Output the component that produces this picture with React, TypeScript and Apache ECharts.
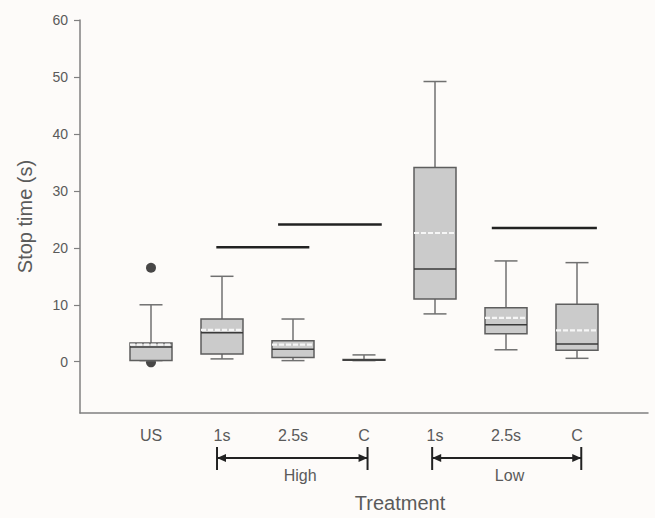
import React, { useEffect, useRef } from "react";
import * as echarts from "echarts";

const categories = ["US", "1s", "2.5s", "C", "1s", "2.5s", "C"];
const positions = [1, 2, 3, 4, 5, 6, 7];
const whiskerMin = [0.2, 0.5, 0.2, 0.2, 8.4, 2.1, 0.6];
const q1 = [0.2, 1.35, 0.75, 0.25, 11.0, 4.9, 2.0];
const median = [2.6, 5.1, 2.2, 0.3, 16.3, 6.5, 3.1];
const q3 = [3.3, 7.5, 3.7, 0.4, 34.1, 9.5, 10.1];
const whiskerMax = [10.0, 15.0, 7.5, 1.2, 49.2, 17.7, 17.4];
const means: (number | null)[] = [3.0, 5.6, 3.0, null, 22.6, 7.7, 5.5];

const outliers = [
  [1, 16.5],
  [1, -0.1],
];

// [xStart, xEnd, y]
const sigLines = [
  [1.92, 3.23, 20.1],
  [2.79, 4.25, 24.1],
  [5.8, 7.28, 23.5],
];

const groupLabels = ["High", "Low"];
const groupStart = [1.93, 4.96];
const groupEnd = [4.05, 7.06];
const groupLabelX = [3.1, 6.05];

const yTicks = [0, 10, 20, 30, 40, 50, 60];
const Y_MIN = -9;
const Y_MAX = 60;

export default function App() {
  const ref = useRef<HTMLDivElement>(null);

  useEffect(() => {
    if (!ref.current) return;
    const chart = echarts.init(ref.current, undefined, { renderer: "svg" });

    const boxData = positions.map((x, i) => [
      x,
      whiskerMin[i],
      q1[i],
      median[i],
      q3[i],
      whiskerMax[i],
      means[i] == null ? "-" : means[i],
    ]);

    const groupData = groupLabels.map((_, i) => [groupStart[i], groupEnd[i], groupLabelX[i], i]);

    const textColor = "#5a5a5a";
    const font = "Liberation Sans, Arial, sans-serif";

    const option: any = {
      animation: false,
      backgroundColor: "#fdfbf9",
      grid: {
        left: 80,
        right: 7,
        top: 20,
        bottom: 105,
        containLabel: false,
        outerBoundsMode: "none",
      },
      xAxis: {
        type: "value",
        min: 0,
        max: 8,
        interval: 1,
        name: "Treatment",
        nameLocation: "middle",
        nameGap: 80,
        nameTextStyle: {
          fontSize: 20,
          color: textColor,
          fontFamily: font,
          padding: [0, 0, 0, 72],
        },
        axisLine: { show: true, onZero: false, lineStyle: { color: "#808080", width: 1.5 } },
        axisTick: { show: false },
        splitLine: { show: false },
        axisLabel: {
          margin: 14,
          fontSize: 16,
          color: textColor,
          fontFamily: font,
          formatter: (v: number) => {
            const idx = positions.indexOf(Math.round(v));
            return idx >= 0 && Math.abs(v - Math.round(v)) < 1e-6 ? categories[idx] : "";
          },
        },
      },
      yAxis: {
        type: "value",
        min: Y_MIN,
        max: Y_MAX,
        name: "Stop time (s)",
        nameLocation: "middle",
        nameGap: 45,
        nameRotate: 90,
        nameTextStyle: {
          fontSize: 20,
          color: textColor,
          fontFamily: font,
        },
        axisLine: { show: true, onZero: false, lineStyle: { color: "#808080", width: 1.5 } },
        axisTick: {
          show: true,
          length: 6,
          customValues: yTicks,
          lineStyle: { color: "#808080", width: 1.2 },
        },
        splitLine: { show: false },
        axisLabel: {
          customValues: yTicks,
          margin: 12,
          fontSize: 14,
          color: textColor,
          fontFamily: font,
        },
      },
      series: [
        {
          type: "scatter",
          z: 1,
          data: outliers,
          symbolSize: 10,
          itemStyle: { color: "#1a1a1a" },
        },
        {
          type: "custom",
          z: 3,
          data: boxData,
          encode: { x: 0, y: [1, 2, 3, 4, 5] },
          renderItem: (params: any, api: any) => {
            const x = api.value(0);
            const pMin = api.coord([x, api.value(1)]);
            const pQ1 = api.coord([x, api.value(2)]);
            const pMed = api.coord([x, api.value(3)]);
            const pQ3 = api.coord([x, api.value(4)]);
            const pMax = api.coord([x, api.value(5)]);
            const meanV = api.value(6);
            const cx = pMed[0];
            const hw = 21;
            const cap = 11.5;
            const whisk = { stroke: "#707070", lineWidth: 1.5 };
            const children: any[] = [
              { type: "line", shape: { x1: cx, y1: pMax[1], x2: cx, y2: pQ3[1] }, style: whisk },
              { type: "line", shape: { x1: cx - cap, y1: pMax[1], x2: cx + cap, y2: pMax[1] }, style: whisk },
              { type: "line", shape: { x1: cx, y1: pQ1[1], x2: cx, y2: pMin[1] }, style: whisk },
              { type: "line", shape: { x1: cx - cap, y1: pMin[1], x2: cx + cap, y2: pMin[1] }, style: whisk },
              {
                type: "rect",
                shape: { x: cx - hw, y: pQ3[1], width: hw * 2, height: Math.max(pQ1[1] - pQ3[1], 0.5) },
                style: { fill: "#cbcbcb", stroke: "#5e5e5e", lineWidth: 1.5 },
              },
              {
                type: "line",
                shape: { x1: cx - hw, y1: pMed[1], x2: cx + hw, y2: pMed[1] },
                style: { stroke: "#3a3a3a", lineWidth: 1.5 },
              },
            ];
            if (meanV != null && !isNaN(meanV)) {
              const pMean = api.coord([x, meanV]);
              children.push({
                type: "line",
                shape: { x1: cx - hw, y1: pMean[1], x2: cx + hw, y2: pMean[1] },
                style: { stroke: "#f6f6f6", lineWidth: 2.2, lineDash: [5, 2] },
              });
            }
            return { type: "group", children };
          },
        },
        ...sigLines.map((s) => ({
          type: "line",
          z: 4,
          data: [
            [s[0], s[2]],
            [s[1], s[2]],
          ],
          symbol: "none",
          lineStyle: { color: "#222", width: 2.5 },
        })),
        {
          type: "custom",
          z: 4,
          clip: false,
          data: groupData,
          encode: { x: [0, 1] },
          renderItem: (params: any, api: any) => {
            const pA = api.coord([api.value(0), Y_MIN]);
            const pB = api.coord([api.value(1), Y_MIN]);
            const pL = api.coord([api.value(2), Y_MIN]);
            const idx = api.value(3);
            const y = pA[1] + 45;
            const col = "#222";
            const ah = 9;
            const aw = 4;
            return {
              type: "group",
              children: [
                { type: "line", shape: { x1: pA[0], y1: y, x2: pB[0], y2: y }, style: { stroke: col, lineWidth: 1.8 } },
                { type: "line", shape: { x1: pA[0], y1: y - 11, x2: pA[0], y2: y + 12 }, style: { stroke: col, lineWidth: 2 } },
                { type: "line", shape: { x1: pB[0], y1: y - 11, x2: pB[0], y2: y + 12 }, style: { stroke: col, lineWidth: 2 } },
                {
                  type: "polygon",
                  shape: { points: [[pA[0], y], [pA[0] + ah, y - aw], [pA[0] + ah, y + aw]] },
                  style: { fill: col },
                },
                {
                  type: "polygon",
                  shape: { points: [[pB[0], y], [pB[0] - ah, y - aw], [pB[0] - ah, y + aw]] },
                  style: { fill: col },
                },
                {
                  type: "text",
                  style: {
                    x: pL[0],
                    y: y + 17,
                    text: groupLabels[idx],
                    fill: textColor,
                    fontSize: 16,
                    fontFamily: font,
                    align: "center",
                    verticalAlign: "middle",
                  },
                },
              ],
            };
          },
        },
      ],
    };

    chart.setOption(option);
    return () => chart.dispose();
  }, []);

  return (
    <div
      ref={ref}
      style={{ position: "fixed", left: 0, top: 0, width: 655, height: 518 }}
    />
  );
}
